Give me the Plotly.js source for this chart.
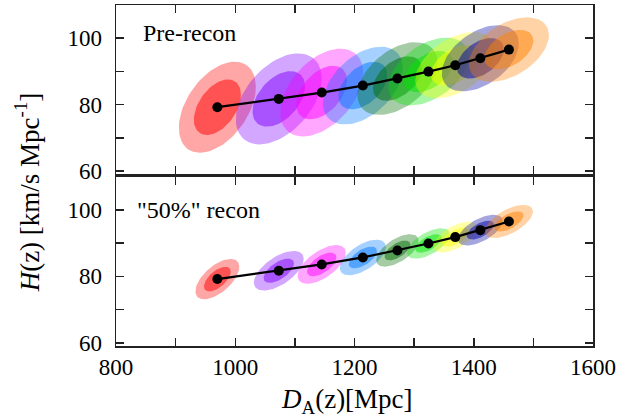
<!DOCTYPE html>
<html>
<head>
<meta charset="utf-8">
<script src="https://cdn.plot.ly/plotly-3.0.1.min.js"></script>
<style>html,body{margin:0;padding:0;background:#fff;}#chart{width:643px;height:417px;}</style>
</head>
<body>
<div id="chart"></div>
<script>
// Data: centres of the BAO measurements
const DA = [970, 1073, 1145, 1214, 1272, 1324, 1369, 1411, 1459];
const Hz = [79.2, 81.7, 83.6, 85.7, 87.8, 89.9, 91.8, 93.9, 96.5];
// 1-sigma errors, pre-reconstruction
const sigDA_pre = [26, 29, 28, 27, 27, 27, 27, 26, 27];
const sigH_pre = [5.5, 5.5, 5.3, 4.7, 4.4, 4.1, 4.0, 4.0, 3.9];
const rho_pre = [0.45, 0.45, 0.45, 0.45, 0.45, 0.45, 0.45, 0.45, 0.45];
// 1-sigma errors, "50%" reconstruction
const sigDA_post = [14.8, 16.8, 16.2, 15.5, 14.3, 14.5, 14.8, 15.1, 16.2];
const sigH_post = [2.44, 2.4, 2.34, 2.15, 1.96, 1.84, 1.86, 1.86, 2.0];
const rho_post = [0.6, 0.6, 0.6, 0.6, 0.6, 0.6, 0.6, 0.6, 0.6];
// colours for each redshift bin
const binColors = ['255,0,0', '128,0,255', '255,0,255', '0,120,255', '0,110,0', '0,230,0', '255,255,0', '0,0,160', '255,130,0'];
const panelLabels = ['Pre-recon', '"50%" recon'];
const xTickVals = [800, 900, 1000, 1100, 1200, 1300, 1400, 1500, 1600];
const xTickText = ['800', '', '1000', '', '1200', '', '1400', '', '1600'];
const yTickVals = [60, 70, 80, 90, 100];
const yTickText = ['60', '', '80', '', '100'];

const levels = [Math.sqrt(6.17), Math.sqrt(2.30)]; // 2-sigma (outer), 1-sigma (inner)
const alphas = [0.35, 0.5];

function ellipse(cx, cy, sx, sy, rho, k) {
  const xs = [], ys = [];
  const n = 80;
  const s = Math.sqrt(1 - rho * rho);
  for (let i = 0; i <= n; i++) {
    const t = 2 * Math.PI * i / n;
    xs.push(cx + k * sx * Math.cos(t));
    ys.push(cy + k * sy * (rho * Math.cos(t) + s * Math.sin(t)));
  }
  return {xs, ys};
}

const traces = [];
function addPanel(sx, sy, rho, xa, ya) {
  for (let i = 0; i < DA.length; i++) {
    for (let l = 0; l < 2; l++) {
      const e = ellipse(DA[i], Hz[i], sx[i], sy[i], rho[i], levels[l]);
      traces.push({
        x: e.xs, y: e.ys, xaxis: xa, yaxis: ya, type: 'scatter', mode: 'lines',
        fill: 'toself', fillcolor: 'rgba(' + binColors[i] + ',' + alphas[l] + ')',
        line: {width: 0}, hoverinfo: 'skip', showlegend: false
      });
    }
  }
  traces.push({
    x: DA, y: Hz, xaxis: xa, yaxis: ya, type: 'scatter', mode: 'lines+markers',
    line: {color: '#000', width: 2.2}, marker: {color: '#000', size: 10},
    showlegend: false
  });
}
addPanel(sigDA_pre, sigH_pre, rho_pre, 'x2', 'y2');
addPanel(sigDA_post, sigH_post, rho_post, 'x', 'y');

const fontFam = '"Liberation Serif", "Times New Roman", Times, "DejaVu Serif", serif';
const axCommon = {
  showline: true, linecolor: '#222', linewidth: 1.5, mirror: 'allticks',
  ticks: 'inside', ticklen: 8, tickwidth: 1.5, tickcolor: '#222',
  showgrid: false, zeroline: false,
  tickfont: {family: fontFam, size: 23, color: '#000'}
};
const xCommon = Object.assign({}, axCommon, {
  range: [800, 1600], tickmode: 'array', tickvals: xTickVals, ticktext: xTickText
});
const yCommon = Object.assign({}, axCommon, {
  range: [59.1, 109.9], tickmode: 'array', tickvals: yTickVals, ticktext: yTickText,
  ticklabelstandoff: 8
});

const layout = {
  width: 643, height: 417,
  font: {family: fontFam, color: '#000'},
  margin: {l: 116, r: 50, t: 5, b: 71},
  paper_bgcolor: '#fff', plot_bgcolor: '#fff',
  xaxis: Object.assign({}, xCommon, {anchor: 'y', domain: [0, 1], ticklabelstandoff: 0}),
  xaxis2: Object.assign({}, xCommon, {anchor: 'y2', matches: 'x', showticklabels: false}),
  yaxis: Object.assign({}, yCommon, {anchor: 'x', domain: [0, 0.496]}),
  yaxis2: Object.assign({}, yCommon, {anchor: 'x2', domain: [0.504, 1]}),
  annotations: [
    {text: panelLabels[0], xref: 'paper', yref: 'paper', x: 0.052, y: 0.918,
     xanchor: 'left', yanchor: 'middle', showarrow: false,
     font: {family: fontFam, size: 24, color: '#000'}},
    {text: panelLabels[1], xref: 'paper', yref: 'paper', x: 0.04, y: 0.40,
     xanchor: 'left', yanchor: 'middle', showarrow: false,
     font: {family: fontFam, size: 24, color: '#000'}},
    {text: '<i>H</i>(z) [km/s Mpc<sup>-1</sup>]', xref: 'paper', yref: 'paper',
     x: -0.187, y: 0.45, xanchor: 'center', yanchor: 'middle', textangle: -90,
     showarrow: false, font: {family: fontFam, size: 27, color: '#000'}},
    {text: '<i>D</i><sub>A</sub>(z)[Mpc]', xref: 'paper', yref: 'paper',
     x: 0.485, y: -0.107, xanchor: 'center', yanchor: 'top',
     showarrow: false, font: {family: fontFam, size: 27, color: '#000'}}
  ]
};

Plotly.newPlot('chart', traces, layout, {displayModeBar: false, staticPlot: true});
</script>
</body>
</html>
